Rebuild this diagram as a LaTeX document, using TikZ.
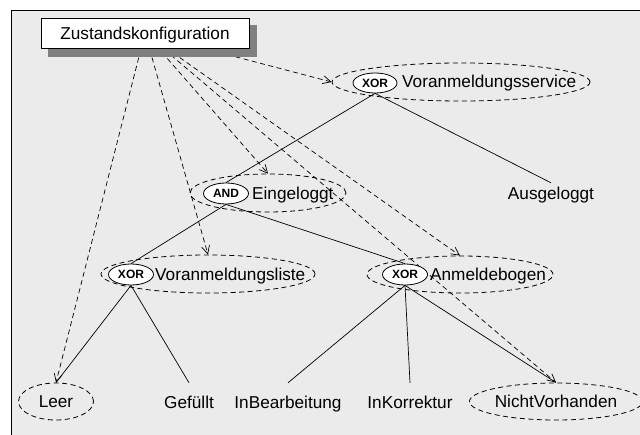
\documentclass[tikz,border=0pt]{standalone}
\usepackage{fontspec}
\setmainfont{Liberation Sans}
\usetikzlibrary{shapes.geometric,arrows.meta}
\pgfdeclarelayer{back}
\pgfdeclarelayer{links}
\pgfsetlayers{back,links,main}
\definecolor{panel}{RGB}{235,235,235}
\definecolor{shade}{RGB}{128,128,128}

\begin{document}
\begin{tikzpicture}[x=1pt,y=-1pt,
  lbl/.style={font=\fontsize{17.2}{20}\selectfont, inner sep=0pt, text height=12.3pt, text depth=3.6pt},
  region/.style={ellipse, draw, dash pattern=on 5pt off 3.5pt, line width=0.8pt, inner sep=0pt},
  kind/.style={ellipse, draw, fill=white, line width=0.8pt, inner sep=0pt,
    minimum width=45pt, minimum height=21pt, font=\fontsize{12}{14}\selectfont\bfseries},
  leaf/.style={lbl, anchor=base, inner ysep=13.7pt},
  link/.style={line width=0.7pt},
  ref/.style={line width=0.7pt, dash pattern=on 5pt off 3.5pt, -{Straight Barb[length=8pt,width=8pt]}},
]
\useasboundingbox (0,0) rectangle (640,435);

% panel
\begin{pgfonlayer}{back}
  \fill[panel] (11,10) rectangle (640,435);
  \draw[line width=0.8pt] (11,435) -- (11,10) -- (640,10);
\end{pgfonlayer}

% configuration box with its shadow
\node[fill=shade, minimum width=209pt, minimum height=32pt, inner sep=0pt] (zkshadow) at (152.5,41) {};
\node[draw, fill=white, line width=0.8pt, minimum width=208pt, minimum height=30pt, lbl, text depth=0pt] (zk) at (145,33) {Zustandskonfiguration};

% Voranmeldungsservice
\node[region, minimum width=258pt, minimum height=38pt] (vs) at (461,82) {};
\node[kind, minimum width=44pt, minimum height=20pt] (vsx) at (375,83) {XOR};
\node[lbl, anchor=base west] (vst) at (402,88) {Voranmeldungsservice};

% Eingeloggt
\node[region, minimum width=156pt, minimum height=38pt] (ein) at (268,193) {};
\node[kind] (einx) at (226,193.5) {AND};
\node[lbl, anchor=base west] (eint) at (252,200) {Eingeloggt};

% Ausgeloggt
\node[lbl, anchor=base, inner ysep=4.7pt] (aus) at (551,200) {Ausgeloggt};

% Voranmeldungsliste
\node[region, minimum width=214pt, minimum height=38pt] (vl) at (208,274) {};
\node[kind] (vlx) at (131,274.5) {XOR};
\node[lbl, anchor=base west] (vlt) at (155,281) {Voranmeldungsliste};

% Anmeldebogen
\node[region, minimum width=186pt, minimum height=37pt] (ab) at (460,274.5) {};
\node[kind] (abx) at (405,274.5) {XOR};
\node[lbl, anchor=base west] (abt) at (430,281) {Anmeldebogen};

% leaves
\node[region, lbl, text depth=0pt, minimum width=75pt, minimum height=37pt] (leer) at (56,401.5) {Leer};
\node[leaf] (gef) at (189,409) {Gefüllt};
\node[leaf] (inb) at (288,409) {InBearbeitung};
\node[leaf] (ink) at (410,409) {InKorrektur};
\node[region, lbl, text depth=0pt, minimum width=153pt, minimum height=37pt] (nv) at (556,401.5) {NichtVorhanden};

% hierarchy
\draw[link] (vsx.south) -- (einx.north);
\draw[link] (vsx.south) -- (aus.north);
\draw[link] (einx.south) -- (vlx.north);
\draw[link] (einx.south) -- (abx.north);
\draw[link] (vlx.south) -- (leer.north);
\draw[link] (vlx.south) -- (gef.north);
\draw[link] (abx.south) -- (inb.north);
\draw[link] (abx.south) -- (ink.north);
\draw[link] (abx.south) -- (nv.north);

% active states of the configuration
\begin{pgfonlayer}{links}
  \draw[ref] (zk.center) -- (vs.west);
  \draw[ref] (zk.center) -- (ein.north);
  \draw[ref] (zk.center) -- (vl.north);
  \draw[ref] (zk.center) -- (ab.north);
  \draw[ref] (zk.center) -- (leer.north);
  \draw[ref] (zk.center) -- (nv.north);
\end{pgfonlayer}
\end{tikzpicture}
\end{document}
